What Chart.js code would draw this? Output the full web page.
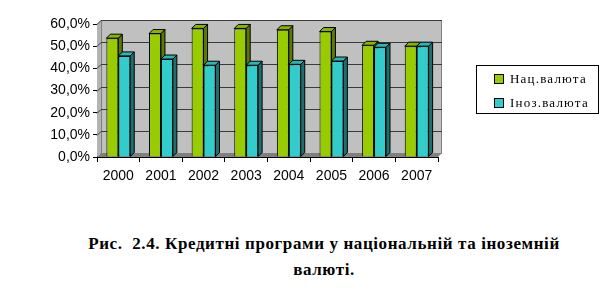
<!DOCTYPE html>
<html>
<head>
<meta charset="utf-8">
<script src="https://cdn.jsdelivr.net/npm/chart.js@4"></script>
<style>
  body { margin: 0; background: #fff; width: 606px; height: 294px; overflow: hidden; position: relative; }
  #wrap { position: absolute; left: 0; top: 0; width: 606px; height: 200px; }
  .legend { position: absolute; left: 476px; top: 65px; width: 123px; height: 49px; border: 1px solid #000; box-sizing: border-box; font-family: "Liberation Serif", serif; font-size: 13px; letter-spacing: 1.2px; }
  .legend div { position: absolute; left: 17px; white-space: nowrap; }
  .legend span { display: inline-block; width: 8px; height: 8px; border: 1px solid #000; margin-right: 6px; vertical-align: -1px; }
  .caption { position: absolute; left: 0; width: 648px; text-align: center; font-family: "Liberation Serif", serif; font-weight: bold; font-size: 17px; letter-spacing: 0.6px; }
</style>
</head>
<body>
<div id="wrap"><canvas id="myChart" width="606" height="200"></canvas></div>
<div class="legend">
  <div style="top:5px"><span style="background:#99cc00"></span>Нац.валюта</div>
  <div style="top:29px"><span style="background:#33cccc"></span>Іноз.валюта</div>
</div>
<div class="caption" style="top:234px">Рис.&nbsp; 2.4. Кредитні програми у національній та іноземній</div>
<div class="caption" style="top:260px">валюті.</div>
<script>
// data
let years = ['2000', '2001', '2002', '2003', '2004', '2005', '2006', '2007'];
let nat_currency = [53.6, 55.7, 58.0, 58.0, 57.4, 56.6, 50.4, 50.0];
let foreign_currency = [45.6, 44.2, 41.4, 41.4, 41.8, 43.3, 49.5, 50.0];
let y_ticks = [0, 10, 20, 30, 40, 50, 60];

const D = 4; // depth of the 3d look

// back wall, side wall, floor and the 3d sides of the bars
const wall3d = {
  id: 'wall3d',
  beforeDatasetsDraw(chart) {
    const c = chart.ctx;
    const a = chart.chartArea;
    const ys = chart.scales.y;
    c.save();
    // left wall
    c.fillStyle = '#b4b4b4';
    c.beginPath();
    c.moveTo(a.left, a.top); c.lineTo(a.left + D, a.top - D);
    c.lineTo(a.left + D, a.bottom - D); c.lineTo(a.left, a.bottom);
    c.closePath(); c.fill();
    // back wall
    c.fillStyle = '#c0c0c0';
    c.fillRect(a.left + D, a.top - D, a.right - a.left, a.bottom - a.top);
    c.strokeStyle = '#808080';
    c.lineWidth = 1;
    c.strokeRect(a.left + D + 0.5, a.top - D + 0.5, a.right - a.left - 1, a.bottom - a.top);
    // floor
    c.fillStyle = '#808080';
    c.beginPath();
    c.moveTo(a.left, a.bottom); c.lineTo(a.left + D, a.bottom - D);
    c.lineTo(a.right + D, a.bottom - D); c.lineTo(a.right, a.bottom);
    c.closePath(); c.fill();
    // grid lines
    c.strokeStyle = '#3a3a3a';
    y_ticks.forEach(v => {
      if (v === 0) return;
      const y = Math.round(ys.getPixelForValue(v)) + 0.5;
      c.beginPath();
      c.moveTo(a.left, y); c.lineTo(a.left + D, y - D);
      c.lineTo(a.right + D, y - D);
      c.stroke();
    });
    // bar sides and tops
    const sides = ['#5c7a00', '#1c7070'];
    const tops = ['#88b400', '#2db4b4'];
    c.strokeStyle = '#000';
    for (let i = 0; i < years.length; i++) {
      for (let d = 0; d < 2; d++) {
        const bar = chart.getDatasetMeta(d).data[i];
        const l = bar.x - bar.width / 2, r = bar.x + bar.width / 2;
        const t = bar.y, b = bar.base;
        c.fillStyle = sides[d];
        c.beginPath();
        c.moveTo(r, t); c.lineTo(r + D, t - D); c.lineTo(r + D, b - D); c.lineTo(r, b);
        c.closePath(); c.fill(); c.stroke();
        c.fillStyle = tops[d];
        c.beginPath();
        c.moveTo(l, t); c.lineTo(l + D, t - D); c.lineTo(r + D, t - D); c.lineTo(r, t);
        c.closePath(); c.fill(); c.stroke();
      }
    }
    c.restore();
  }
};

const ctx = document.getElementById('myChart').getContext('2d');
const myChart = new Chart(ctx, {
  type: 'bar',
  data: {
    labels: years,
    datasets: [{
      label: 'Нац.валюта',
      data: nat_currency,
      backgroundColor: '#99cc00',
      borderColor: '#000',
      borderWidth: 1
    }, {
      label: 'Іноз.валюта',
      data: foreign_currency,
      backgroundColor: '#33cccc',
      borderColor: '#000',
      borderWidth: 1
    }]
  },
  options: {
    responsive: false,
    animation: false,
    events: [],
    layout: { padding: { top: 24, right: 168, left: 0, bottom: 0 } },
    datasets: { bar: { categoryPercentage: 0.56, barPercentage: 1 } },
    plugins: { legend: { display: false }, tooltip: { enabled: false } },
    scales: {
      y: {
        min: 0,
        max: 60,
        afterFit: s => { s.width = 97; },
        afterBuildTicks: s => { s.ticks = y_ticks.map(v => ({ value: v })); },
        grid: { display: true, drawOnChartArea: false, tickLength: 4, color: '#000' },
        border: { display: true, color: '#000', width: 1 },
        ticks: {
          color: '#000',
          padding: 3,
          font: { family: 'Liberation Sans', size: 14 },
          callback: v => v.toFixed(1).replace('.', ',') + '%'
        }
      },
      x: {
        afterFit: s => { s.height = 43; },
        grid: { display: true, drawOnChartArea: false, offset: true, tickLength: 5, color: '#000' },
        border: { display: true, color: '#000', width: 1 },
        ticks: {
          color: '#000',
          padding: 6,
          font: { family: 'Liberation Sans', size: 14 }
        }
      }
    }
  },
  plugins: [wall3d]
});
</script>
</body>
</html>
